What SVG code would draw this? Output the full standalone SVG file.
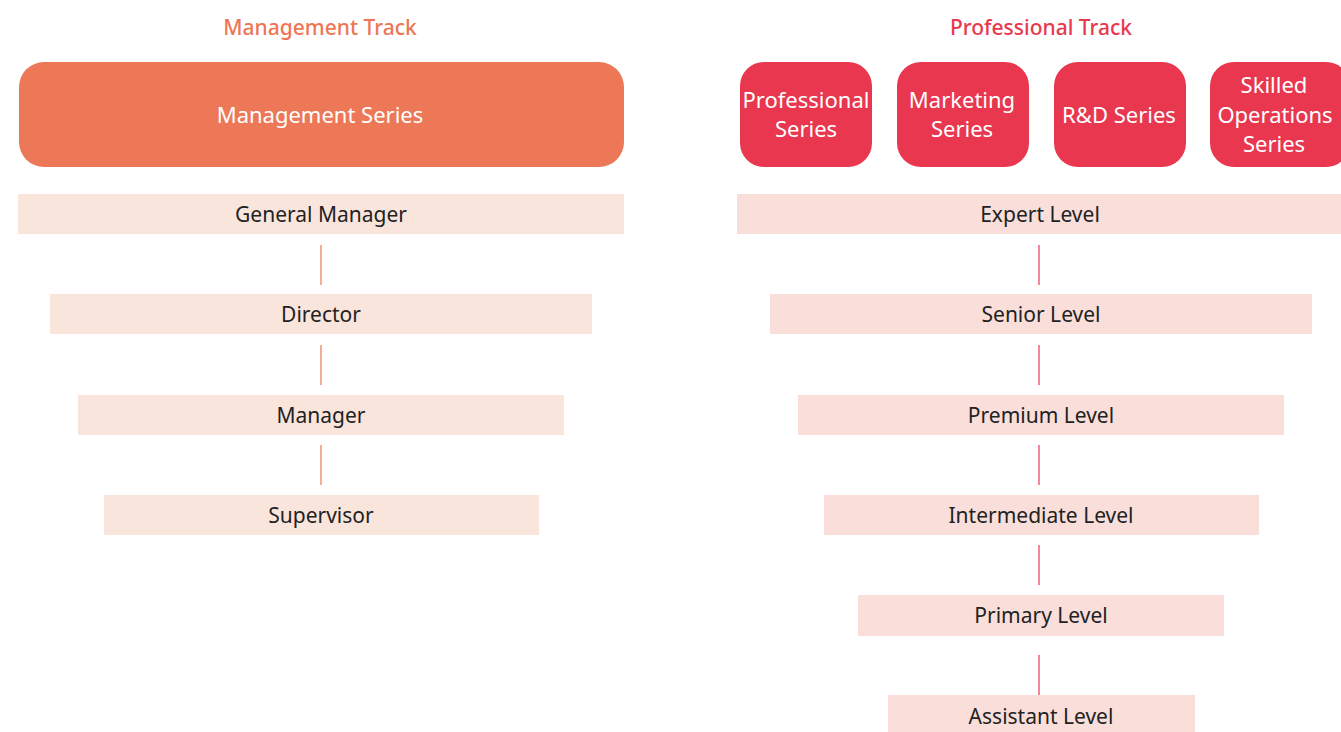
<svg xmlns="http://www.w3.org/2000/svg" width="1341" height="732" viewBox="0 0 1341 732">
<style>
text{font-family:"Noto Sans","Open Sans",sans-serif;text-anchor:middle;font-size:22px}
.title{font-size:21px;font-weight:500}
.mt{fill:#EE7655}
.pt{fill:#E8394F}
.ms{fill:#ED7857}
.ps{fill:#E8374F}
.wt{fill:#FFFFFF}
.lvl-m{fill:#FAE5DC}
.lvl-p{fill:#F9DEDA}
.lt{fill:#222222;font-size:21px}
.cm{stroke:#EE7655;stroke-width:1.2}
.cp{stroke:#E8394F;stroke-width:1.2}
</style>
<rect width="1341" height="732" fill="#FFFFFF"/>
<g id="title-management"><text class="title mt" x="320" y="35">Management Track</text></g>
<g id="title-professional"><text class="title pt" x="1041" y="35">Professional Track</text></g>
<g id="management-series"><rect class="ms" x="19" y="62" width="605" height="105" rx="25"/><text class="wt" x="320" y="123">Management Series</text></g>
<g id="professional-series"><rect class="ps" x="740" y="62" width="132" height="105" rx="24"/><text class="wt" x="806" y="108">Professional</text><text class="wt" x="806" y="137">Series</text></g>
<g id="marketing-series"><rect class="ps" x="897" y="62" width="132" height="105" rx="24"/><text class="wt" x="962" y="108">Marketing</text><text class="wt" x="962" y="137">Series</text></g>
<g id="rd-series"><rect class="ps" x="1054" y="62" width="132" height="105" rx="24"/><text class="wt" x="1119" y="123">R&amp;D Series</text></g>
<g id="skilled-series"><rect class="ps" x="1210" y="62" width="140" height="105" rx="24"/><text class="wt" x="1274" y="93">Skilled</text><text class="wt" x="1275" y="123">Operations</text><text class="wt" x="1274" y="152">Series</text></g>
<g id="general-manager"><rect class="lvl-m" x="18" y="194" width="606" height="40"/><text class="lt" x="321" y="222">General Manager</text></g>
<g id="director"><rect class="lvl-m" x="50" y="294" width="542" height="40"/><text class="lt" x="321" y="322">Director</text></g>
<g id="manager"><rect class="lvl-m" x="78" y="395" width="486" height="40"/><text class="lt" x="321" y="423">Manager</text></g>
<g id="supervisor"><rect class="lvl-m" x="104" y="495" width="435" height="40"/><text class="lt" x="321" y="523">Supervisor</text></g>
<g id="expert-level"><rect class="lvl-p" x="737" y="194" width="604" height="40"/><text class="lt" x="1040" y="222">Expert Level</text></g>
<g id="senior-level"><rect class="lvl-p" x="770" y="294" width="542" height="40"/><text class="lt" x="1041" y="322">Senior Level</text></g>
<g id="premium-level"><rect class="lvl-p" x="798" y="395" width="486" height="40"/><text class="lt" x="1041" y="423">Premium Level</text></g>
<g id="intermediate-level"><rect class="lvl-p" x="824" y="495" width="435" height="40"/><text class="lt" x="1041" y="523">Intermediate Level</text></g>
<g id="primary-level"><rect class="lvl-p" x="858" y="595" width="366" height="41"/><text class="lt" x="1041" y="623">Primary Level</text></g>
<g id="assistant-level"><rect class="lvl-p" x="888" y="695" width="307" height="37"/><text class="lt" x="1041" y="724">Assistant Level</text></g>
<g id="connectors">
<line class="cm" x1="321" y1="245" x2="321" y2="285"/>
<line class="cm" x1="321" y1="345" x2="321" y2="385"/>
<line class="cm" x1="321" y1="445" x2="321" y2="485"/>
<line class="cp" x1="1039" y1="245" x2="1039" y2="285"/>
<line class="cp" x1="1039" y1="345" x2="1039" y2="385"/>
<line class="cp" x1="1039" y1="445" x2="1039" y2="485"/>
<line class="cp" x1="1039" y1="545" x2="1039" y2="585"/>
<line class="cp" x1="1039" y1="655" x2="1039" y2="695"/>
</g>
</svg>
